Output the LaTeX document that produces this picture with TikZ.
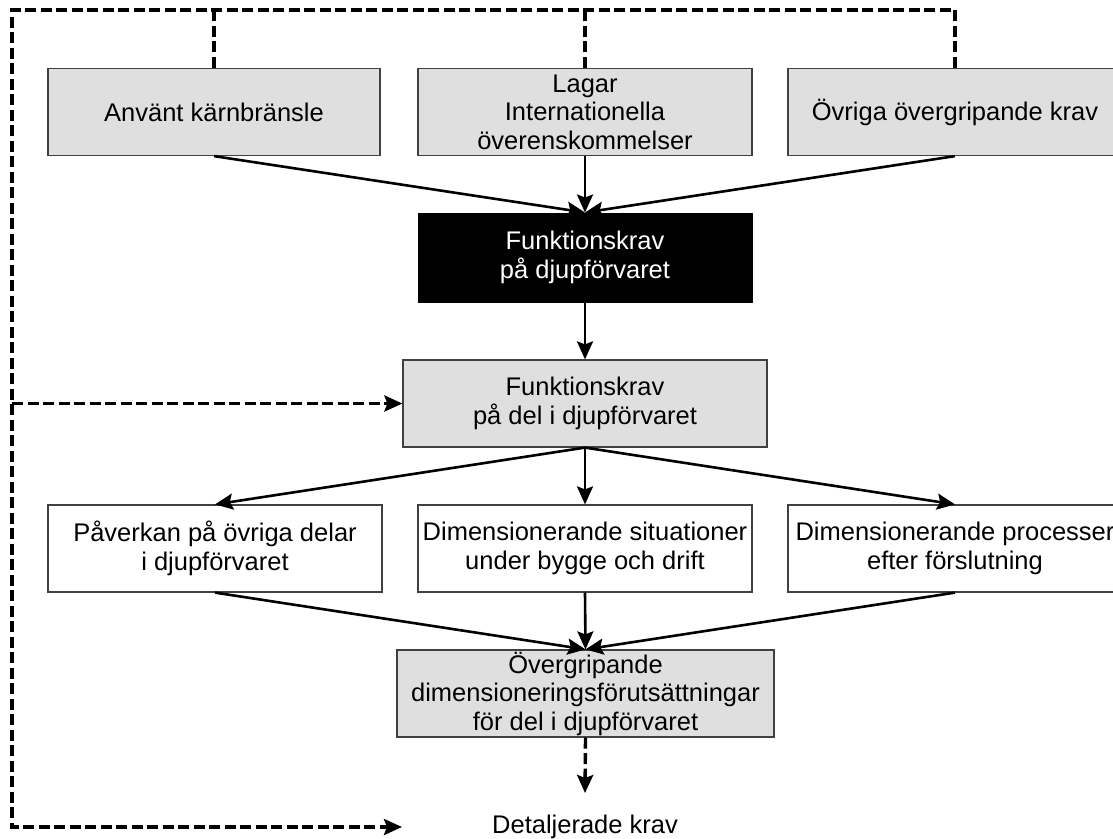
\documentclass[tikz,border=0pt]{standalone}
\usepackage{fontspec}
\setmainfont{Liberation Sans}
\usetikzlibrary{arrows.meta}
\definecolor{boxgray}{HTML}{DFDFDF}
\definecolor{edgegray}{HTML}{404040}
\begin{document}
\begin{tikzpicture}[x=1pt,y=-1pt,
  every node/.style={font=\fontsize{25.5pt}{28.5pt}\selectfont, align=center, inner sep=0pt},
  graybox/.style={draw=edgegray, line width=1.2pt, fill=boxgray, minimum height=87pt},
  whitebox/.style={draw=edgegray, line width=1.2pt, fill=white, minimum height=87pt},
  blackbox/.style={draw=black, line width=1pt, fill=black, text=white, minimum height=89pt},
  arr/.style={line width=2.6pt, -{Stealth[length=18pt,width=16pt,inset=3pt]}},
  dashline/.style={line width=3.4pt, dash pattern=on 11pt off 4.5pt},
  dasharr/.style={line width=3.4pt, dash pattern=on 11pt off 4.5pt, -{Stealth[length=18pt,width=16pt,inset=3pt]}}
]
\useasboundingbox (0,0) rectangle (1113,838);
\clip (0,0) rectangle (1113,838);
% top row
\node[graybox, minimum width=332pt] (b1) at (214,112) {Använt kärnbränsle};
\node[graybox, minimum width=334pt] (b2) at (585,112) {Lagar\\Internationella\\överenskommelser};
\node[graybox, minimum width=334pt] (b3) at (955,112) {Övriga övergripande krav};
% black box
\node[blackbox, minimum width=334pt] (fk) at (585,257.5) {Funktionskrav\\på djupförvaret};
% second gray box
\node[graybox, minimum width=364pt] (f2) at (585,403.5) {Funktionskrav\\på del i djupförvaret};
% middle row
\node[whitebox, minimum width=334pt] (r1) at (215,548.5) {Påverkan på övriga delar\\i djupförvaret};
\node[whitebox, minimum width=334pt] (r2) at (585,548.5) {Dimensionerande situationer\\under bygge och drift};
\node[whitebox, minimum width=334pt] (r3) at (955,548.5) {Dimensionerande processer\\efter förslutning};
% bottom box
\node[graybox, minimum width=377pt] (ov) at (585.5,693.5) {Övergripande\\dimensioneringsförutsättningar\\för del i djupförvaret};
\node (det) at (585,827) {Detaljerade krav};
% coordinates for the dashed loop
\coordinate (tl) at (12,10);
\coordinate (bl) at (12,827);
\coordinate (br) at (12,403.5);
\coordinate (dend) at (402,827);
\coordinate (dtop) at (585,793);
% solid arrows
\draw[arr] (b1.south) -- (fk.north);
\draw[arr] (b2.south) -- (fk.north);
\draw[arr] (b3.south) -- (fk.north);
\draw[arr] (fk.south) -- (f2.north);
\draw[arr] (f2.south) -- (r1.north);
\draw[arr] (f2.south) -- (r2.north);
\draw[arr] (f2.south) -- (r3.north);
\draw[arr] (r1.south) -- (ov.north);
\draw[arr] (r2.south) -- (ov.north);
\draw[arr] (r3.south) -- (ov.north);
% dashed feedback
\draw[dashline] (b1.north) -- (b1.north |- tl);
\draw[dashline] (b2.north) -- (b2.north |- tl);
\draw[dasharr] (b3.north) |- (tl) -- (bl) -- (dend);
\draw[dasharr] (br) -- (f2.west);
\draw[dasharr] (ov.south) -- (dtop);
\end{tikzpicture}
\end{document}
